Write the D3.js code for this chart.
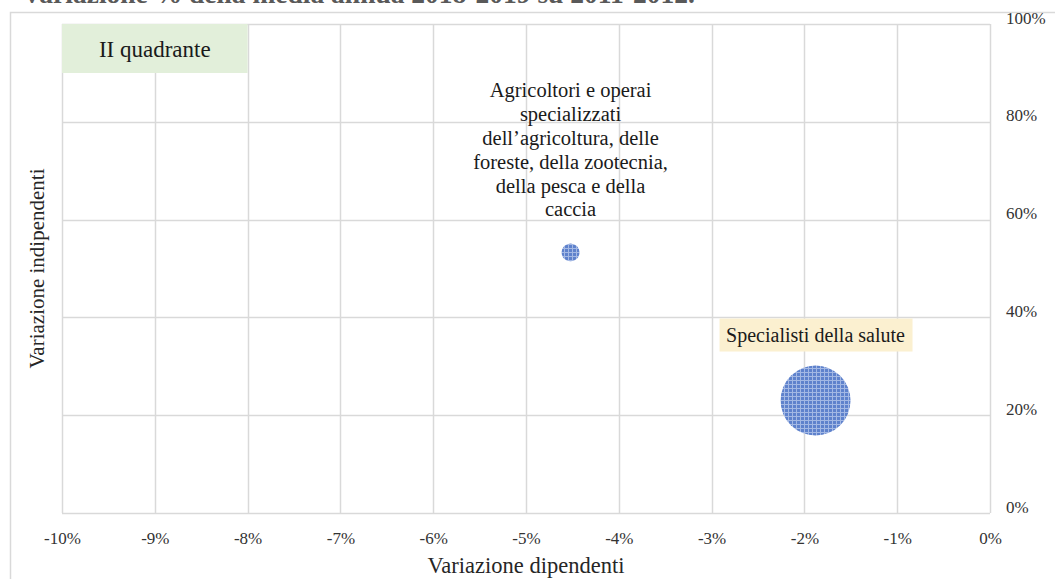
<!DOCTYPE html>
<html><head><meta charset="utf-8">
<script src="https://cdn.jsdelivr.net/npm/d3@7"></script>
<style>
html,body{margin:0;padding:0;background:#fff;}
svg{display:block;font-family:"Liberation Serif","DejaVu Serif",serif;}
</style></head>
<body>
<svg id="c" width="1055" height="579"></svg>
<script>
// ---- data ----
const categories = ["Agricoltori e operai specializzati dell\u2019agricoltura, delle foreste, della zootecnia, della pesca e della caccia", "Specialisti della salute"];
const xValues = [-4.52, -1.88];      // Variazione dipendenti (%)
const yValues = [53.3, 23.0];        // Variazione indipendenti (%)
const sizeValues = [16, 245];        // bubble size
const xTicks = [-10,-9,-8,-7,-6,-5,-4,-3,-2,-1,0];
const yTicks = [0,20,40,60,80,100];
const labelLines = [
  ["Agricoltori e operai","specializzati","dell\u2019agricoltura, delle","foreste, della zootecnia,","della pesca e della","caccia"],
  ["Specialisti della salute"]
];
const titleText = "Variazione % della media annua 2018-2019 su 2011-2012.";
const xTitle = "Variazione dipendenti";
const yTitle = "Variazione indipendenti";
const quadrantText = "II quadrante";

// ---- chart ----
const svg = d3.select("#c");
const x = d3.scaleLinear().domain([-10,0]).range([62,990]);
const y = d3.scaleLinear().domain([0,100]).range([513,24]);
const r = d3.scaleSqrt().domain([0,245]).range([0,35]);

// pattern
const defs = svg.append("defs");
const pat = defs.append("pattern").attr("id","chk").attr("patternUnits","userSpaceOnUse")
  .attr("width",4).attr("height",4);
pat.append("rect").attr("width",4).attr("height",4).attr("fill","#5f82cc");
pat.append("rect").attr("x",0).attr("y",0).attr("width",4).attr("height",1).attr("fill","#a3b8e4");
pat.append("rect").attr("x",0).attr("y",0).attr("width",1).attr("height",4).attr("fill","#a3b8e4");

// title (clipped at top, as in the source image)
svg.append("text").attr("x",22).attr("y",3).attr("font-size",27.5).attr("font-weight","bold")
  .attr("fill","#595959").text(titleText);

// outer chart border
svg.append("path").attr("d","M10.5,579 V12.5 H1055").attr("fill","none").attr("stroke","#d9d9d9").attr("stroke-width",1.5);

// gridlines
const g = svg.append("g");
g.selectAll(".vx").data(xTicks).join("line")
  .attr("x1",d=>Math.round(x(d))+0.5).attr("x2",d=>Math.round(x(d))+0.5)
  .attr("y1",y(100)).attr("y2",y(0))
  .attr("stroke","#d9d9d9").attr("stroke-width",1.5);
g.selectAll(".hy").data(yTicks).join("line")
  .attr("x1",x(-10)).attr("x2",x(0))
  .attr("y1",d=>Math.round(y(d))+0.5).attr("y2",d=>Math.round(y(d))+0.5)
  .attr("stroke","#d9d9d9").attr("stroke-width",1.5);

// quadrant box
const qx0 = x(-10), qx1 = x(-8);
svg.append("rect").attr("x",qx0).attr("y",y(100)).attr("width",qx1-qx0).attr("height",49).attr("fill","#e2efda");
svg.append("text").attr("x",(qx0+qx1)/2).attr("y",y(100)+33).attr("text-anchor","middle")
  .attr("font-size",23).attr("fill","#1a1a1a").text(quadrantText);

// x axis tick labels
const xa = svg.append("g").attr("transform","translate(0,"+y(0)+")")
  .call(d3.axisBottom(x).tickValues(xTicks).tickSize(0).tickPadding(19).tickFormat(d=>d+"%"));
xa.select(".domain").remove();
xa.selectAll("text").attr("font-size",17).attr("fill","#333").attr("font-family","Liberation Serif, serif");

// y axis tick labels (right side)
const ya = svg.append("g").attr("transform","translate("+x(0)+",0)")
  .call(d3.axisRight(y).tickValues(yTicks).tickSize(0).tickPadding(16).tickFormat(d=>d+"%"));
ya.select(".domain").remove();
ya.selectAll("text").attr("font-size",17).attr("fill","#333").attr("font-family","Liberation Serif, serif").attr("dy","-0.05em");

// axis titles
svg.append("text").attr("x",(x(-10)+x(0))/2).attr("y",573).attr("text-anchor","middle")
  .attr("font-size",22.5).attr("fill","#262626").text(xTitle);
svg.append("text").attr("transform","translate(44,"+((y(0)+y(100))/2)+") rotate(-90)")
  .attr("text-anchor","middle").attr("font-size",21).attr("fill","#262626").text(yTitle);

// bubbles
const idx = d3.range(categories.length);
svg.selectAll(".b").data(idx).join("circle")
  .attr("cx",i=>x(xValues[i])).attr("cy",i=>y(yValues[i])).attr("r",i=>r(sizeValues[i]))
  .attr("fill","url(#chk)");

// label 0 (multi-line, no box)
const l0 = svg.append("text").attr("text-anchor","middle").attr("font-size",20.5).attr("fill","#1a1a1a");
labelLines[0].forEach((t,k)=>{
  l0.append("tspan").attr("x",x(xValues[0])).attr("y",y(yValues[0])-155+k*23.8).text(t);
});

// label 1 (box)
const lx = x(xValues[1]), cy1 = y(yValues[1]);
svg.append("rect").attr("x",lx-96).attr("y",cy1-82).attr("width",193).attr("height",33).attr("fill","#fbf0d0");
svg.append("text").attr("x",lx).attr("y",cy1-59).attr("text-anchor","middle").attr("font-size",20)
  .attr("fill","#1a1a1a").text(labelLines[1][0]);
</script>
</body></html>
